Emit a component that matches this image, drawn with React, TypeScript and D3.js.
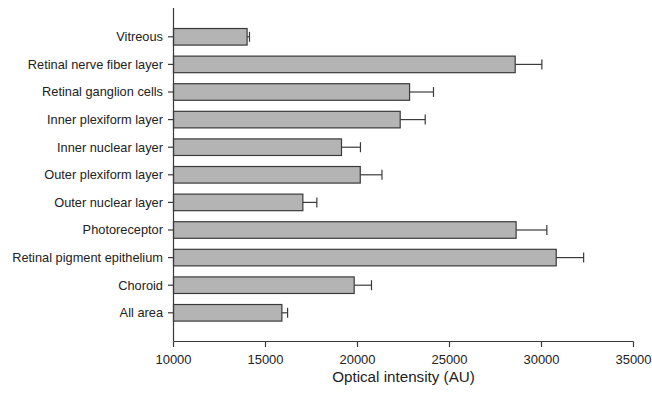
import React from "react";
import * as d3 from "d3";

const categories = [
  "Vitreous",
  "Retinal nerve fiber layer",
  "Retinal ganglion cells",
  "Inner plexiform layer",
  "Inner nuclear layer",
  "Outer plexiform layer",
  "Outer nuclear layer",
  "Photoreceptor",
  "Retinal pigment epithelium",
  "Choroid",
  "All area",
];
const values = [14000, 28570, 22830, 22320, 19130, 20150, 17030, 28620, 30800, 19820, 15890];
const errors = [130, 1450, 1300, 1360, 1030, 1180, 760, 1670, 1490, 940, 310];
const xTicks = [10000, 15000, 20000, 25000, 30000, 35000];

export default function App() {
  const W = 652, H = 397;
  const x = d3.scaleLinear().domain([10000, 35000]).range([173.5, 633.5]);
  const y = d3.scaleBand<string>().domain(categories).range([23, 326.6]).paddingInner(0.4).paddingOuter(0.2);
  const axisX = 173.5;
  const axisY = 341.5;
  const font = "Liberation Sans, Arial, sans-serif";
  const bh = y.bandwidth();
  return (
    <svg width={W} height={H} style={{ position: "absolute", left: 0, top: 0, background: "#fff" }}>
      {categories.map((c, i) => {
        const yc = (y(c) as number) + bh / 2;
        const x1 = x(values[i]);
        const xe = x(values[i] + errors[i]);
        return (
          <g key={c}>
            <rect x={axisX} y={y(c)} width={x1 - axisX} height={bh} fill="#b4b4b4" stroke="#3a3a3a" strokeWidth={1.2} />
            <line x1={x1} x2={xe} y1={yc} y2={yc} stroke="#3a3a3a" strokeWidth={1.2} />
            <line x1={xe} x2={xe} y1={yc - 5} y2={yc + 5} stroke="#3a3a3a" strokeWidth={1.2} />
            <line x1={axisX - 5.5} x2={axisX} y1={yc} y2={yc} stroke="#3a3a3a" strokeWidth={1.2} />
            <text x={163} y={yc} dy="0.35em" textAnchor="end" fontFamily={font} fontSize={12.8} fill="#222">{c}</text>
          </g>
        );
      })}
      <line x1={axisX} x2={axisX} y1={8} y2={axisY} stroke="#3a3a3a" strokeWidth={1.2} />
      <line x1={axisX} x2={x(35000)} y1={axisY} y2={axisY} stroke="#3a3a3a" strokeWidth={1.2} />
      {xTicks.map((t) => (
        <g key={t}>
          <line x1={x(t)} x2={x(t)} y1={axisY} y2={axisY + 5.5} stroke="#3a3a3a" strokeWidth={1.2} />
          <text x={x(t)} y={359} dy="0.35em" textAnchor="middle" fontFamily={font} fontSize={13} fill="#222">{t}</text>
        </g>
      ))}
      <text x={x(22500)} y={382} textAnchor="middle" fontFamily={font} fontSize={15.2} fill="#222">Optical intensity (AU)</text>
    </svg>
  );
}
